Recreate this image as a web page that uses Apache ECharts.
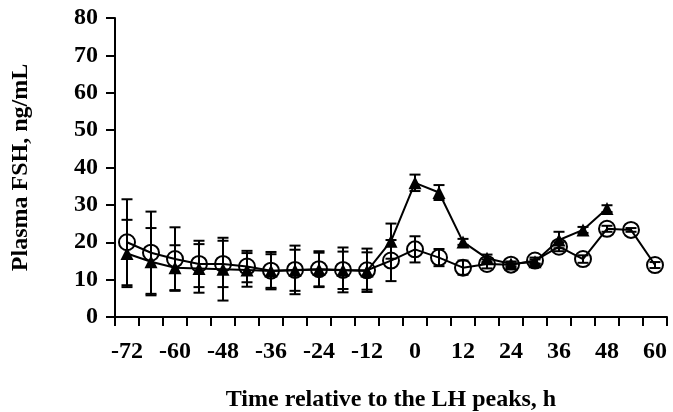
<!DOCTYPE html>
<html>
<head>
<meta charset="utf-8">
<script src="https://cdn.jsdelivr.net/npm/echarts@6/dist/echarts.min.js"></script>
<style>
  html, body { margin: 0; padding: 0; background: #fff; }
  #chart { width: 673px; height: 412px; }
</style>
</head>
<body>
<div id="chart"></div>
<script>
// hours relative to the LH peak
const hours = ['-72', '-66', '-60', '-54', '-48', '-42', '-36', '-30', '-24', '-18', '-12', '-6',
  '0', '6', '12', '18', '24', '30', '36', '42', '48', '54', '60'];

// open circles
const circleMean = [20, 17.2, 15.5, 14.2, 14.2, 13.5, 12.4, 12.6, 12.8, 12.6, 12.5, 15.1,
  18.1, 15.9, 13.2, 14.2, 14, 15.1, 18.8, 15.5, 23.6, 23.3, 13.9];
const circleErr = [11.5, 11, 8.5, 6.2, 6.2, 4.2, 5, 6.5, 4.8, 6, 5.8, 5.5,
  3.5, 2.3, 1.9, 1.2, 0.8, 0.8, 1.2, 1, 0.8, 0.5, 0.8];

// filled triangles
const triMean = [17, 14.8, 13.2, 13, 12.8, 12.6, 12.3, 12.5, 12.7, 12.5, 12.3, 20.3,
  35.9, 33.3, 20.1, 15.7, 14.2, 14.8, 20.6, 23.3, 29, null, null];
const triErr = [9, 9, 6, 6.5, 8.4, 4.5, 4.5, 5.5, 4.5, 5, 5, 4.7,
  2.2, 2, 0.8, 1, 0.6, 0.6, 2.2, 0.8, 0.9, null, null];

const yTicks = { min: 0, max: 80, step: 10 };

const font = 'Liberation Serif, Times New Roman, serif';

function errData(mean, err) {
  const out = [];
  mean.forEach((m, i) => {
    if (m == null || err[i] == null) return;
    out.push([i, m - err[i], m + err[i]]);
  });
  return out;
}

function renderErr(params, api) {
  const i = api.value(0);
  const lo = api.coord([i, api.value(1)]);
  const hi = api.coord([i, api.value(2)]);
  const half = 5.5;
  const style = { stroke: '#000', lineWidth: 2 };
  return {
    type: 'group',
    children: [
      { type: 'line', shape: { x1: lo[0], y1: lo[1], x2: hi[0], y2: hi[1] }, style: style },
      { type: 'line', shape: { x1: lo[0] - half, y1: lo[1], x2: lo[0] + half, y2: lo[1] }, style: style },
      { type: 'line', shape: { x1: hi[0] - half, y1: hi[1], x2: hi[0] + half, y2: hi[1] }, style: style }
    ]
  };
}

const chart = echarts.init(document.getElementById('chart'));

chart.setOption({
  backgroundColor: '#fff',
  animation: false,
  grid: { left: 115, right: 6, top: 18, bottom: 95, containLabel: false, outerBoundsMode: 'none' },
  xAxis: {
    type: 'category',
    data: hours,
    boundaryGap: true,
    name: 'Time relative to the LH peaks, h',
    nameLocation: 'middle',
    nameGap: 71,
    nameTextStyle: { fontFamily: font, fontWeight: 'bold', fontSize: 24, color: '#000' },
    axisLine: { lineStyle: { color: '#000', width: 2 } },
    axisTick: { show: true, interval: 0, length: 9, lineStyle: { color: '#000', width: 2 } },
    axisLabel: { interval: 1, margin: 23, fontFamily: font, fontWeight: 'bold', fontSize: 24, color: '#000' },
    splitLine: { show: false }
  },
  yAxis: {
    type: 'value',
    min: yTicks.min,
    max: yTicks.max,
    interval: yTicks.step,
    name: 'Plasma FSH, ng/mL',
    nameLocation: 'middle',
    nameGap: 82,
    nameTextStyle: { fontFamily: font, fontWeight: 'bold', fontSize: 24, color: '#000' },
    axisLine: { show: true, lineStyle: { color: '#000', width: 2 } },
    axisTick: { show: true, length: 9, lineStyle: { color: '#000', width: 2 } },
    axisLabel: { margin: 17, fontFamily: font, fontWeight: 'bold', fontSize: 24, color: '#000' },
    splitLine: { show: false }
  },
  series: [
    {
      type: 'custom',
      renderItem: renderErr,
      data: errData(circleMean, circleErr),
      z: 1
    },
    {
      type: 'custom',
      renderItem: renderErr,
      data: errData(triMean, triErr),
      z: 1
    },
    {
      type: 'line',
      data: circleMean,
      symbol: 'circle',
      symbolSize: 16,
      lineStyle: { color: '#000', width: 2 },
      itemStyle: { color: 'rgba(0,0,0,0)', borderColor: '#000', borderWidth: 2 },
      z: 2
    },
    {
      type: 'line',
      data: triMean,
      symbol: 'triangle',
      symbolSize: 13,
      connectNulls: false,
      lineStyle: { color: '#000', width: 2 },
      itemStyle: { color: '#000' },
      z: 3
    }
  ]
});
</script>
</body>
</html>
